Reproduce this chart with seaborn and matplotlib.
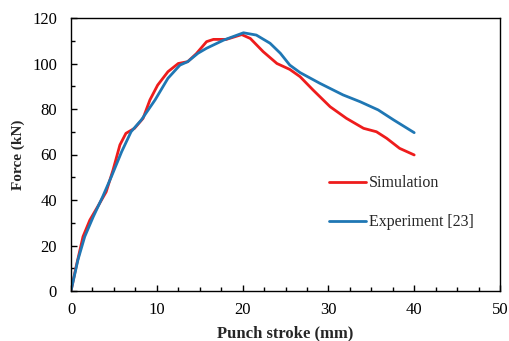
import matplotlib
matplotlib.use("Agg")
import matplotlib.pyplot as plt
from matplotlib.ticker import MultipleLocator
import seaborn as sns
import pandas as pd

sim_x = [0, 0.6, 1.4, 2.2, 3.1, 4.1, 4.9, 5.7, 6.4, 7.4, 8.4, 9.2, 10.1, 11.3, 12.5, 13.6,
         14.6, 15.8, 16.6, 18.1, 19.9, 20.9, 22.4, 24.0, 25.5, 26.7, 28.2, 30.2, 32.1,
         34.1, 35.6, 36.8, 38.3, 40.0]
sim_y = [0, 10.7, 23.9, 31.2, 37, 43.6, 53.2, 64.2, 69.3, 71.5, 75.9, 84, 90.5, 96.4, 100, 100.8,
         104.3, 109.6, 110.6, 110.6, 112.7, 111, 105.2, 100, 97.4, 94.2, 88.4, 81, 75.9,
         71.5, 70, 67.1, 62.7, 59.8]
exp_x = [0, 0.8, 1.6, 2.6, 3.7, 4.7, 5.9, 7.0, 8.2, 9.8, 11.3, 12.7, 13.6, 14.8, 15.8, 17.8,
         20.1, 21.6, 23.2, 24.4, 25.5, 26.7, 29.0, 31.7, 33.7, 35.8, 37.6, 40.0]
exp_y = [0, 13.6, 23.9, 32.7, 41.5, 50.2, 61.2, 70, 75.2, 84, 93.5, 99.3, 100.8, 104.5, 106.7,
         110.3, 113.5, 112.5, 108.9, 104.5, 99.3, 96, 91.3, 86.2, 83.2, 79.6, 75.2, 69.6]

df = pd.concat([
    pd.DataFrame({"x": sim_x, "y": sim_y, "series": "Simulation"}),
    pd.DataFrame({"x": exp_x, "y": exp_y, "series": "Experiment [23]"}),
])

sns.set_theme(style="ticks")
plt.rcParams["font.family"] = ["Liberation Serif", "DejaVu Serif"]

fig = plt.figure(figsize=(5.09, 3.41), dpi=100)
ax = fig.add_axes([71/509, 1 - 291/341, (500-71)/509, (291-18)/341])

sns.lineplot(data=df, x="x", y="y", hue="series", sort=False,
             palette={"Simulation": "#ee1c1c", "Experiment [23]": "#1f77b4"},
             linewidth=2, ax=ax)
for ln in ax.lines:
    ln.set_solid_joinstyle("round")
    ln.set_solid_capstyle("round")

ax.set_xlim(0, 50)
ax.set_ylim(0, 120)
ax.xaxis.set_major_locator(MultipleLocator(10))
ax.xaxis.set_minor_locator(MultipleLocator(2.5))
ax.yaxis.set_major_locator(MultipleLocator(20))
ax.yaxis.set_minor_locator(MultipleLocator(10))
ax.tick_params(which="both", direction="in", labelsize=12, colors="black")
ax.tick_params(which="major", length=4, width=1)
ax.tick_params(which="minor", length=3, width=1)
ax.tick_params(axis="x", which="both", top=False, pad=8)
ax.tick_params(axis="y", which="both", right=False, pad=10)
for s in ax.spines.values():
    s.set_color("black")
    s.set_linewidth(1)

ax.set_xlabel("Punch stroke (mm)", fontsize=12, fontweight="bold", labelpad=5)
ax.set_ylabel("Force (kN)", fontsize=11, fontweight="bold", labelpad=5)

leg = ax.legend(loc="center left", bbox_to_anchor=(0.568, 0.323), frameon=False,
                fontsize=11.5, handlelength=2.3, handletextpad=0.2, labelspacing=1.45)
for h in leg.get_lines():
    h.set_linewidth(2)

fig.savefig("out.png", dpi=100, facecolor="white")
